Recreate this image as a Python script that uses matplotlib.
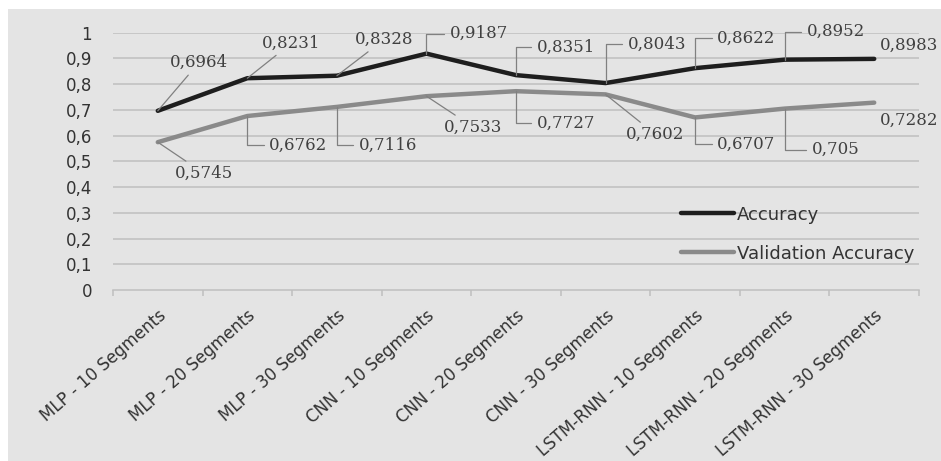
import matplotlib
matplotlib.use("Agg")
import matplotlib.pyplot as plt
from matplotlib.patches import Rectangle

categories = ["MLP - 10 Segments", "MLP - 20 Segments", "MLP - 30 Segments",
              "CNN - 10 Segments", "CNN - 20 Segments", "CNN - 30 Segments",
              "LSTM-RNN - 10 Segments", "LSTM-RNN - 20 Segments", "LSTM-RNN - 30 Segments"]
accuracy = [0.6964, 0.8231, 0.8328, 0.9187, 0.8351, 0.8043, 0.8622, 0.8952, 0.8983]
val_accuracy = [0.5745, 0.6762, 0.7116, 0.7533, 0.7727, 0.7602, 0.6707, 0.705, 0.7282]
yticks = [0, 0.1, 0.2, 0.3, 0.4, 0.5, 0.6, 0.7, 0.8, 0.9, 1]

def fmt(v):
    s = ("%g" % v).replace(".", ",")
    return s

# label placement: (dx px, dy px, style)  style: 's' straight (centered), 'e' elbow (left aligned), 'n' none
acc_lab = [(41, 48, 's'), (44, 35, 's'), (47, 36, 's'), (23, 20, 'e'), (21, 28, 'e'),
           (22, 39, 'e'), (22, 30, 'e'), (22, 28, 'e'), (6, 14, 'n')]
val_lab = [(46, -31, 's'), (22, -29, 'e'), (22, -38, 'e'), (47, -31, 's'), (21, -32, 'e'),
           (50, -40, 's'), (22, -27, 'e'), (27, -41, 'e'), (6, -18, 'n')]

W, H = 941, 461
fig = plt.figure(figsize=(W / 100, H / 100), dpi=100, facecolor="white")
fig.patches.append(Rectangle((8 / W, 0), 1 - 8 / W, 1 - 9 / H, transform=fig.transFigure,
                             facecolor="#e4e4e4", edgecolor="none", zorder=-10))
ax = fig.add_axes([113 / W, (H - 290) / H, (919 - 113) / W, (290 - 32.7) / H])
ax.set_facecolor("none")
ax.set_zorder(2)

x = list(range(len(categories)))
ax.set_xlim(-0.5, len(categories) - 0.5)
ax.set_ylim(0, 1)

for yv in yticks[1:]:
    ax.axhline(yv, color="#bfbfbf", lw=1.1, zorder=1)

ax.plot(x, accuracy, color="#1e1e1e", lw=3.2, solid_capstyle="round", solid_joinstyle="round",
        zorder=3, label="Accuracy")
ax.plot(x, val_accuracy, color="#8a8a8a", lw=3.2, solid_capstyle="round", solid_joinstyle="round",
        zorder=3, label="Validation Accuracy")

lab_font = dict(family="DejaVu Serif", size=12, color="#404040")

def add_labels(vals, specs):
    for i, (v, (dx, dy, st)) in enumerate(zip(vals, specs)):
        if st == 's':
            ax.annotate(fmt(v), xy=(i, v), xytext=(dx, dy), textcoords="offset pixels",
                        ha="center", va="center", zorder=5, **lab_font,
                        arrowprops=dict(arrowstyle="-", color="#808080", lw=0.9,
                                        shrinkA=1, shrinkB=0,
                                        connectionstyle="arc3"))
        elif st == 'e':
            ax.annotate(fmt(v), xy=(i, v), xytext=(dx, dy), textcoords="offset pixels",
                        ha="left", va="center", zorder=5, **lab_font,
                        arrowprops=dict(arrowstyle="-", color="#808080", lw=0.9,
                                        shrinkA=2, shrinkB=0,
                                        connectionstyle="angle,angleA=0,angleB=90,rad=0"))
        else:
            ax.annotate(fmt(v), xy=(i, v), xytext=(dx, dy), textcoords="offset pixels",
                        ha="left", va="center", zorder=5, **lab_font,
                        annotation_clip=False)

add_labels(accuracy, acc_lab)
add_labels(val_accuracy, val_lab)

# axes styling
for s in ["top", "right", "left"]:
    ax.spines[s].set_visible(False)
ax.spines["bottom"].set_color("#bfbfbf")
ax.spines["bottom"].set_linewidth(1.1)

ax.set_yticks(yticks)
ax.set_yticklabels([fmt(v) for v in yticks], fontsize=12, color="#333333", family="DejaVu Sans")
ax.tick_params(axis="y", length=0, pad=15)

ax.set_xticks(x)
ax.set_xticklabels(categories, rotation=41, ha="right", va="top", rotation_mode="anchor",
                   fontsize=12, color="#333333", family="DejaVu Sans")
ax.tick_params(axis="x", which="major", length=0, pad=12)
ax.set_xticks([i - 0.5 for i in range(len(categories) + 1)], minor=True)
ax.tick_params(axis="x", which="minor", length=4, width=1.1, color="#bfbfbf")

leg = ax.legend(loc="upper left", bbox_to_anchor=(0.705, 0.328), frameon=False,
                handlelength=2.9, handletextpad=0.17, borderpad=0, borderaxespad=0,
                labelspacing=1.17, prop=dict(family="DejaVu Sans", size=13))
for t in leg.get_texts():
    t.set_color("#333333")

fig.savefig("out.png", dpi=100, facecolor="white")
